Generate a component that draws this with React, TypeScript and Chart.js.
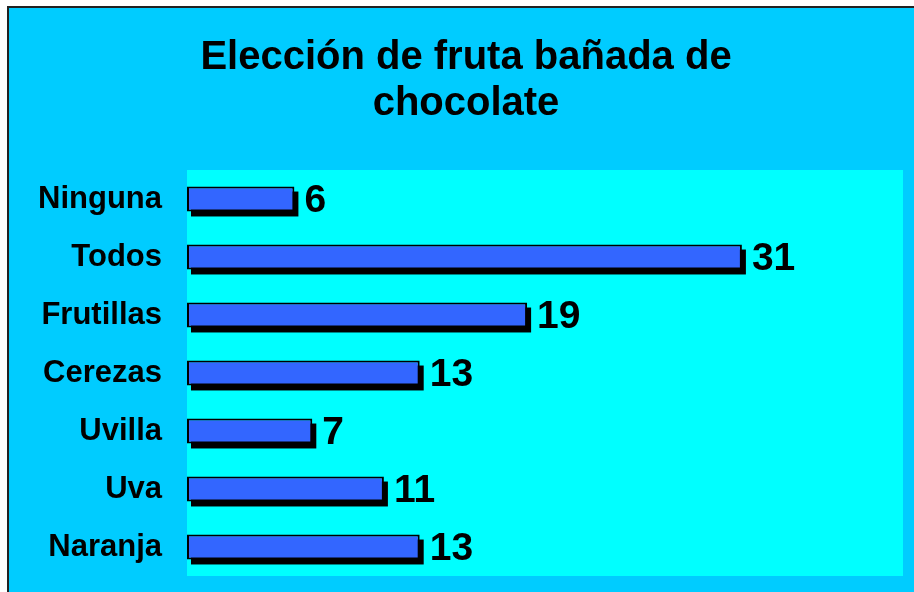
import React, { useEffect, useRef } from "react";
import { Chart, registerables } from "chart.js";

Chart.register(...registerables);

const titleLines = ["Elección de fruta bañada de", "chocolate"];
const categories = ["Ninguna", "Todos", "Frutillas", "Cerezas", "Uvilla", "Uva", "Naranja"];
const votes = [6, 31, 19, 13, 7, 11, 13];
const axisMax = 40;

const FONT = "'Liberation Sans', Arial, sans-serif";

export default function App() {
  const ref = useRef<HTMLCanvasElement | null>(null);

  useEffect(() => {
    const canvas = ref.current;
    if (!canvas) return;

    const bgPlugin = {
      id: "bgPlugin",
      beforeDraw(chart: any) {
        const { ctx, chartArea, width, height } = chart;
        ctx.save();
        ctx.fillStyle = "#00CCFF";
        ctx.fillRect(0, 0, width, height);
        ctx.fillStyle = "#00FFFF";
        ctx.fillRect(chartArea.left, chartArea.top, chartArea.right - chartArea.left, chartArea.bottom - chartArea.top);
        ctx.fillStyle = "#000";
        ctx.font = `bold 40px ${FONT}`;
        ctx.textAlign = "center";
        ctx.textBaseline = "alphabetic";
        ctx.fillText(titleLines[0], 457, 61);
        ctx.fillText(titleLines[1], 457, 107);
        ctx.restore();
      },
    };

    const shadowPlugin = {
      id: "shadowPlugin",
      beforeDatasetsDraw(chart: any) {
        const ctx = chart.ctx;
        const meta = chart.getDatasetMeta(0);
        ctx.save();
        ctx.fillStyle = "#000";
        meta.data.forEach((bar: any) => {
          const p = bar.getProps(["x", "y", "base", "height"], true);
          const left = Math.min(p.x, p.base);
          const w = Math.abs(p.x - p.base);
          ctx.fillRect(left + 4, p.y - p.height / 2 + 5, w, p.height);
        });
        ctx.restore();
      },
    };

    const labelPlugin = {
      id: "labelPlugin",
      afterDatasetsDraw(chart: any) {
        const ctx = chart.ctx;
        const meta = chart.getDatasetMeta(0);
        ctx.save();
        ctx.fillStyle = "#000";
        ctx.font = `bold 39px ${FONT}`;
        ctx.textAlign = "left";
        ctx.textBaseline = "middle";
        meta.data.forEach((bar: any, i: number) => {
          ctx.fillText(String(votes[i]), bar.x + 10, bar.y + 2);
        });
        ctx.restore();
      },
    };

    const chart = new Chart(canvas, {
      type: "bar",
      data: {
        labels: categories,
        datasets: [
          {
            data: votes,
            backgroundColor: "#3366FF",
            borderColor: "#000000",
            borderWidth: 2,
            borderSkipped: false,
            categoryPercentage: 1,
            barPercentage: 0.43,
          },
        ],
      },
      options: {
        indexAxis: "y",
        responsive: true,
        maintainAspectRatio: false,
        animation: false,
        devicePixelRatio: 1,
        layout: { padding: { left: 0, top: 162, right: 16, bottom: 22 } },
        plugins: {
          legend: { display: false },
          title: { display: false },
          tooltip: { enabled: false },
        },
        scales: {
          x: { display: false, min: 0, max: axisMax },
          y: {
            grid: { display: false, drawTicks: false },
            border: { display: false },
            ticks: {
              color: "#000",
              padding: 25,
              font: { family: FONT, size: 31, weight: "bold" },
            },
            afterFit(scale: any) {
              scale.width = 178;
              scale.paddingTop = 0;
              scale.paddingBottom = 0;
            },
          },
        },
      },
      plugins: [bgPlugin, shadowPlugin, labelPlugin],
    } as any);

    return () => chart.destroy();
  }, []);

  return (
    <div style={{ position: "fixed", left: 7, top: 6, border: "2px solid #222" }}>
      <div style={{ position: "relative", width: 910, height: 590 }}>
        <canvas ref={ref} />
      </div>
    </div>
  );
}
